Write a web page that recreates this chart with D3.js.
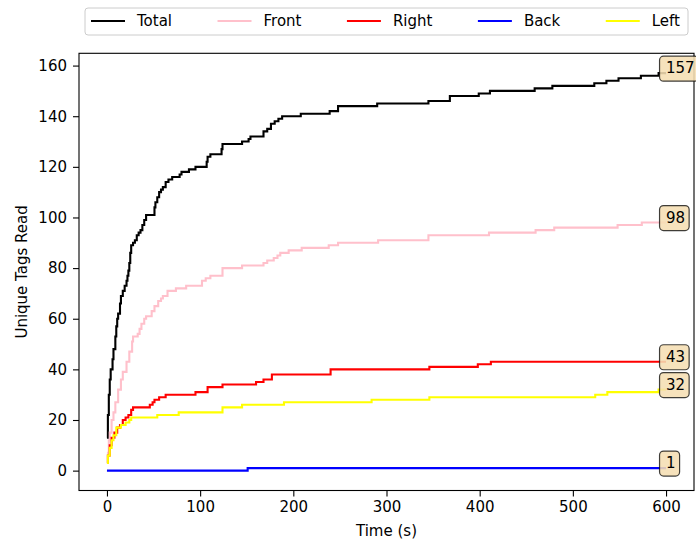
<!DOCTYPE html>
<html>
<head>
<meta charset="utf-8">
<script src="https://cdn.jsdelivr.net/npm/d3@7"></script>
<style>
  body { margin: 0; background: #fff; }
  svg { display: block; font-family: "DejaVu Sans", sans-serif; }
</style>
</head>
<body>
<svg width="696" height="542"></svg>
<script>
// step change points [time (s), unique tags read]
var totalSteps = [[0,13],[1,22],[2,30],[3,36],[4,40],[6,44],[7,48],[9,53],[10,57],[11,60],[12,62],[14,66],[15,69],[17,71],
  [19,73],[21,75],[22,77],[23,79],[24,82],[25,86],[26,89],[28,90],[30,91],[32,93],[34,94],[36,95],[38,97],[40,99],[42,101],
  [51,104],[52,106],[54,108],[56,110],[58,111],[60,112],[63,114],[66,115],[70,116],[78,117],[80,118],[88,119],[95,120],
  [107,122],[108,124],[111,125],[123,127],[124,129],[145,130],[152,131],[154,132],[168,134],[172,135],[176,137],[180,138],
  [184,139],[188,140],[208,141],[239,142],[248,144],[290,145],[345,146],[368,148],[399,149],[411,150],[459,151],[478,152],
  [523,153],[536,154],[549,155],[573,156],[592,157],[600,157]];
var frontSteps = [[0,7],[2,12],[3,15],[5,20],[7,23],[9,27],[12,32],[15,36],[17,39],[21,43],[24,47],[27,51],[28,53],[33,54],
  [35,56],[37,58],[40,60],[42,61],[48,63],[51,65],[55,67],[58,68],[60,69],[65,71],[74,72],[85,73],[102,75],[106,76],[111,77],
  [124,80],[145,81],[168,82],[172,83],[179,84],[183,85],[186,86],[195,87],[209,88],[238,89],[248,90],[291,91],[345,93],
  [410,94],[460,95],[480,96],[548,97],[574,98],[600,98]];
var rightSteps = [[0,3],[1,6],[3,10],[5,13],[8,15],[11,17],[14,18],[17,20],[20,21],[23,22],[26,24],[28,25],[46,26],[49,27],
  [51,28],[56,29],[63,30],[95,31],[108,33],[124,34],[160,35],[168,36],[177,38],[240,40],[346,41],[398,42],[412,43],[600,43]];
var backSteps = [[0,0],[151,1],[600,1]];
var leftSteps = [[0,3],[1,6],[3,9],[5,12],[7,14],[10,17],[15,18],[20,19],[24,20],[26,21],[54,22],[77,23],[124,25],[145,26],
  [190,27],[284,28],[346,29],[524,30],[537,31],[592,32],[600,32]];

var seriesNames = ['Total', 'Front', 'Right', 'Back', 'Left'];
var seriesColors = ['black', 'pink', 'red', 'blue', 'yellow'];
var seriesData = [totalSteps, frontSteps, rightSteps, backSteps, leftSteps];

var xTicks = [0, 100, 200, 300, 400, 500, 600];
var yTicks = [0, 20, 40, 60, 80, 100, 120, 140, 160];

var plot = { left: 79, right: 694, top: 53.3, bottom: 490.5 };
var svg = d3.select('svg');

var xScale = d3.scaleLinear().domain([-30, 630]).range([plot.left, plot.right]);
var yScale = d3.scaleLinear().domain([-7.85, 164.85]).range([plot.bottom, plot.top]);

// axes
var xAxis = svg.append('g')
  .attr('transform', 'translate(0,' + plot.bottom + ')')
  .call(d3.axisBottom(xScale).tickValues(xTicks).tickSize(6).tickPadding(5));
var yAxis = svg.append('g')
  .attr('transform', 'translate(' + plot.left + ',0)')
  .call(d3.axisLeft(yScale).tickValues(yTicks).tickSize(6).tickPadding(6));

[xAxis, yAxis].forEach(function(ax) {
  ax.select('.domain').remove();
  ax.selectAll('line').attr('stroke', '#000').attr('stroke-width', 1.1);
  ax.selectAll('text').attr('fill', '#000').style('font-size', '15px').style('font-family', '"DejaVu Sans", sans-serif');
});

var line = d3.line()
  .x(function(d) { return xScale(d[0]); })
  .y(function(d) { return yScale(d[1]); })
  .curve(d3.curveStepAfter);

seriesData.forEach(function(data, i) {
  svg.append('path')
    .datum(data)
    .attr('fill', 'none')
    .attr('stroke', seriesColors[i])
    .attr('stroke-width', 2.1)
    .attr('d', line);
});

// frame
svg.append('rect')
  .attr('x', plot.left).attr('y', plot.top)
  .attr('width', plot.right - plot.left).attr('height', plot.bottom - plot.top)
  .attr('fill', 'none').attr('stroke', '#000').attr('stroke-width', 1.1);

// end value labels
seriesData.forEach(function(data) {
  var last = data[data.length - 1];
  var g = svg.append('g');
  var tx = xScale(last[0]);
  var ty = yScale(last[1]);
  var box = g.append('rect');
  var t = g.append('text')
    .attr('x', tx).attr('y', ty)
    .style('font-size', '15px')
    .attr('fill', '#000')
    .text(last[1]);
  var tw = t.node().getComputedTextLength();
  box.attr('x', tx - 6.5).attr('y', ty - 17)
    .attr('width', tw + 10.5).attr('height', 25)
    .attr('rx', 4).attr('ry', 4)
    .attr('fill', 'wheat').attr('fill-opacity', 0.88)
    .attr('stroke', '#000').attr('stroke-opacity', 0.75).attr('stroke-width', 1.2);
});

// legend
var legend = svg.append('g');
var legendBox = legend.append('rect')
  .attr('x', 85).attr('y', 8).attr('width', 603).attr('height', 27)
  .attr('rx', 3).attr('ry', 3)
  .attr('fill', '#fff').attr('fill-opacity', 0.8)
  .attr('stroke', '#ccc').attr('stroke-width', 1);

var handleLen = 34, handleGap = 12, legStart = 91, legEnd = 680, legY = 21;
var items = seriesNames.map(function(name, i) {
  var g = legend.append('g');
  g.append('line').attr('x1', 0).attr('x2', handleLen).attr('y1', legY).attr('y2', legY)
    .attr('stroke', seriesColors[i]).attr('stroke-width', 2.1);
  var t = g.append('text').attr('x', handleLen + handleGap).attr('y', legY).attr('dy', '0.35em')
    .style('font-size', '15px').attr('fill', '#000').text(name);
  return { g: g, w: handleLen + handleGap + t.node().getComputedTextLength() };
});
var used = d3.sum(items, function(d) { return d.w; });
var gap = (legEnd - legStart - used) / (items.length - 1);
var cx = legStart;
items.forEach(function(it) {
  it.g.attr('transform', 'translate(' + cx + ',0)');
  cx += it.w + gap;
});

// axis labels
svg.append('text')
  .attr('x', (plot.left + plot.right) / 2).attr('y', 536)
  .attr('text-anchor', 'middle').style('font-size', '15px')
  .text('Time (s)');
svg.append('text')
  .attr('transform', 'translate(27,' + ((plot.top + plot.bottom) / 2) + ') rotate(-90)')
  .attr('text-anchor', 'middle').style('font-size', '15px')
  .text('Unique Tags Read');
</script>
</body>
</html>
